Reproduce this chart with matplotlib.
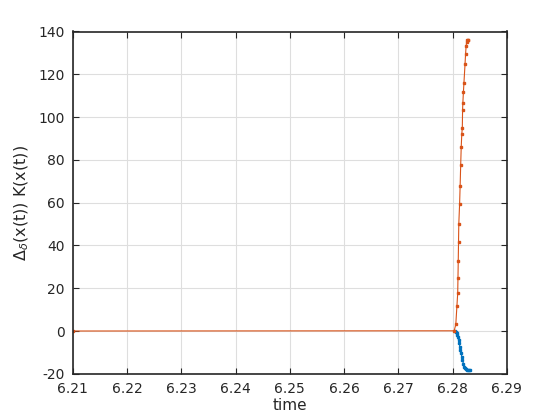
import matplotlib
matplotlib.use("Agg")
import matplotlib.pyplot as plt

# Orange series (K): time and value
t_orange = [6.2100, 6.2803, 6.2806, 6.2808, 6.28095, 6.2810, 6.28105, 6.2811,
            6.28115, 6.2813, 6.2814, 6.2815, 6.2816, 6.2817, 6.2818, 6.28185,
            6.2819, 6.2820, 6.2821, 6.2823, 6.2824, 6.2825, 6.2826, 6.2827,
            6.2828, 6.2829]
v_orange = [0.0, 0.1, 3.1, 11.5, 17.6, 24.9, 32.7, 41.4,
            49.9, 59.4, 68.0, 77.6, 86.2, 91.9, 95.0, 103.5,
            106.7, 111.5, 116.0, 124.7, 129.5, 133.1, 135.2, 135.8,
            136.0, 136.1]

# Blue series
t_blue = [6.2805, 6.2807, 6.2808, 6.2809, 6.2810, 6.2811, 6.28125, 6.28134,
          6.28145, 6.28158, 6.2817, 6.28183, 6.2820, 6.28213, 6.2823,
          6.28245, 6.2826, 6.2828, 6.2830, 6.28318]
v_blue = [0.0, -0.3, -1.1, -1.9, -3.0, -4.2, -5.8, -7.3,
          -8.8, -10.4, -12.0, -13.5, -15.2, -16.7, -17.5,
          -17.9, -18.0, -18.1, -18.2, -18.2]

x_ticks = [6.21, 6.22, 6.23, 6.24, 6.25, 6.26, 6.27, 6.28, 6.29]
y_ticks = [-20, 0, 20, 40, 60, 80, 100, 120, 140]

c_blue = "#0072BD"
c_orange = "#D95319"
fg = "#262626"

fig = plt.figure(figsize=(5.6, 4.2), dpi=100)
ax = fig.add_axes([0.13, 0.11, 0.775, 0.815])

ax.plot(t_blue, v_blue, color=c_blue, lw=0.8, marker="s", ms=1.8, mec=c_blue, mfc=c_blue)
ax.plot(t_orange, v_orange, color=c_orange, lw=0.8, marker="s", ms=1.6, mec=c_orange, mfc=c_orange)

ax.set_xlim(6.21, 6.29)
ax.set_ylim(-20, 140)
ax.set_xticks(x_ticks)
ax.set_xticklabels([f"{v:.2f}" for v in x_ticks])
ax.set_yticks(y_ticks)
ax.set_yticklabels([str(v) for v in y_ticks])

ax.grid(True, color="#dedede", lw=0.8)
ax.set_axisbelow(True)
for s in ax.spines.values():
    s.set_color(fg)
    s.set_linewidth(1.2)
ax.tick_params(direction="in", length=4, width=0.8, colors=fg, labelsize=10,
               top=True, right=True, pad=6)

ax.set_xlabel("time", fontsize=11, color=fg, labelpad=1)
ax.set_ylabel(r"$\Delta_\delta$(x(t)) K(x(t))", fontsize=11.5, color=fg, labelpad=5)

fig.savefig("out.png", dpi=100)
